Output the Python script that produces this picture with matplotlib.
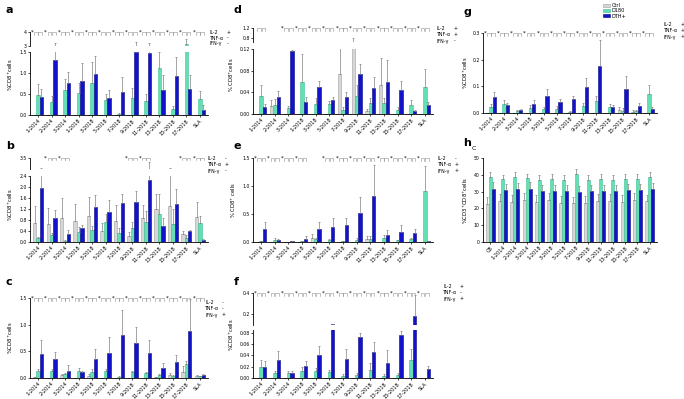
import numpy as np
import matplotlib
matplotlib.use("Agg")
import matplotlib.pyplot as plt
from matplotlib.patches import Patch
from matplotlib.transforms import blended_transform_factory

# categories
cats = ["1-2014", "2-2014", "3-2014", "1-2018", "3-2018", "5-2018", "7-2018",
        "9-2018", "11-2018", "13-2018", "15-2018", "17-2018", "SLA"]
cats_h = ["CB"] + cats

# panel a: IL-2+ TNF- IFN-
a_ctrl = [0, 0, 0, 0, 0, 0, 0, 0, 0, 0, 0, 0, 0]
a_d180 = [0.48, 0.30, 0.60, 0.52, 0.77, 0.35, 0.02, 0.40, 0.33, 1.13, 0.15, 3.15, 0.38]
a_dth = [0.42, 1.30, 0.77, 0.80, 0.97, 0.41, 0.55, 1.49, 1.48, 0.60, 0.92, 0.62, 0.13]
a_ctrl_err = [0, 0, 0, 0, 0, 0, 0, 0, 0, 0, 0, 0, 0]
a_d180_err = [0.27, 0.15, 0.25, 0.25, 0.50, 0.15, 0.03, 0.25, 0.17, 0.38, 0.07, 0.35, 0.20]
a_dth_err = [0.20, 1.90, 0.25, 0.45, 0.43, 0.18, 0.35, 1.80, 1.75, 0.35, 0.47, 0.33, 0.10]
a_sig = [2, 2, 2, 2, 2, 2, 2, 2, 2, 2, 2, 2, 2]

# panel b: IL-2- TNF+ IFN-
b_ctrl = [0.70, 0.67, 0.86, 0.76, 0.93, 0.40, 0.78, 0.23, 0.88, 1.19, 1.31, 0.29, 0.91]
b_d180 = [0.15, 0.27, 0.05, 0.36, 0.42, 0.73, 0.32, 0.51, 0.72, 1.03, 0.65, 0.15, 0.70]
b_dth = [1.96, 0.88, 0.29, 0.52, 1.26, 1.09, 1.43, 1.47, 2.24, 0.59, 1.39, 0.39, 0.07]
b_ctrl_err = [0.60, 0.55, 0.75, 0.62, 0.72, 0.30, 0.55, 0.12, 0.45, 0.55, 1.30, 0.10, 0.55]
b_d180_err = [0.05, 0.05, 0.02, 0.20, 0.15, 0.30, 0.20, 0.20, 0.40, 0.70, 0.55, 0.10, 0.25]
b_dth_err = [0.60, 0.28, 0.15, 0.10, 0.45, 0.45, 0.30, 0.40, 0.90, 0.30, 0.55, 0.05, 0.04]
b_sig = [0, 2, 2, 0, 0, 0, 0, 2, 2, 0, 0, 2, 2]

# panel c: IL-2- TNF- IFN+
c_ctrl = [0.01, 0, 0.05, 0, 0.04, 0, 0, 0, 0, 0.01, 0.05, 0.12, 0.04]
c_d180 = [0.13, 0.13, 0.07, 0.13, 0.12, 0.13, 0.02, 0.11, 0.09, 0.05, 0.03, 0.26, 0.03]
c_dth = [0.45, 0.35, 0.14, 0.12, 0.35, 0.47, 0.80, 0.66, 0.47, 0.19, 0.30, 0.88, 0.05]
c_ctrl_err = [0, 0, 0.03, 0, 0.04, 0, 0, 0, 0, 0, 0.05, 0.10, 0.01]
c_d180_err = [0.04, 0.03, 0.03, 0.05, 0.05, 0.04, 0.01, 0.03, 0.02, 0.02, 0.03, 0.06, 0.01]
c_dth_err = [0.27, 0.14, 0.10, 0.02, 0.20, 0.30, 0.47, 0.30, 0.25, 0.10, 0.14, 0.60, 0.03]
c_sig = [2, 2, 2, 2, 2, 2, 2, 2, 2, 2, 2, 2, 2]

# panel d: IL-2+ TNF+ IFN-
d_ctrl = [0, 0.015, 0, 0, 0, 0, 0.073, 0.125, 0.005, 0.054, 0, 0, 0]
d_d180 = [0.033, 0.017, 0.011, 0.060, 0.019, 0.019, 0.008, 0.034, 0.020, 0.020, 0.008, 0.017, 0.050]
d_dth = [0.013, 0.031, 0.116, 0.023, 0.049, 0.025, 0.031, 0.073, 0.048, 0.060, 0.045, 0.006, 0.017]
d_ctrl_err = [0, 0.010, 0, 0, 0, 0, 0.050, 0.700, 0.005, 0.050, 0, 0, 0]
d_d180_err = [0.020, 0.010, 0.004, 0.050, 0.010, 0.005, 0.005, 0.020, 0.010, 0.010, 0.005, 0.008, 0.033]
d_dth_err = [0.005, 0.012, 0.002, 0.008, 0.012, 0.006, 0.010, 0.020, 0.020, 0.040, 0.016, 0.002, 0.005]
d_sig = [1, 0, 2, 2, 2, 2, 2, 2, 2, 2, 2, 2, 2]

# panel e: IL-2- TNF+ IFN+
e_ctrl = [0, 0, 0, 0, 0.07, 0, 0, 0, 0.06, 0, 0, 0, 0]
e_d180 = [0.01, 0.04, 0.005, 0.01, 0.05, 0.04, 0.01, 0.04, 0.06, 0.07, 0.03, 0.05, 0.91]
e_dth = [0.23, 0.04, 0.01, 0.06, 0.24, 0.27, 0.31, 0.52, 0.83, 0.12, 0.18, 0.16, 0.02]
e_ctrl_err = [0, 0, 0, 0, 0.08, 0, 0, 0, 0.05, 0, 0, 0, 0]
e_d180_err = [0.005, 0.03, 0, 0.005, 0.03, 0.02, 0.005, 0.03, 0.05, 0.05, 0.01, 0.02, 0.45]
e_dth_err = [0.13, 0.02, 0.005, 0.05, 0.11, 0.15, 0.11, 0.28, 0.55, 0.10, 0.12, 0.07, 0.005]
e_sig = [2, 2, 2, 2, 0, 2, 2, 2, 2, 2, 2, 2, 2]

# panel f: IL-2+ TNF- IFN+
f_ctrl = [0, 0, 0, 0, 0, 0, 0, 0, 0, 0, 0, 0, 0]
f_d180 = [0.020, 0.008, 0.008, 0.012, 0.012, 0.010, 0.004, 0.006, 0.014, 0.004, 0.005, 0.032, 0]
f_dth = [0.019, 0.032, 0.008, 0.022, 0.040, 0.095, 0.034, 0.072, 0.046, 0.027, 0.076, 0.180, 0.016]
f_ctrl_err = [0, 0, 0, 0, 0, 0, 0, 0, 0, 0, 0, 0, 0]
f_d180_err = [0.012, 0.005, 0.004, 0.008, 0.006, 0.004, 0.003, 0.003, 0.012, 0.003, 0.003, 0.020, 0]
f_dth_err = [0.011, 0.015, 0.004, 0.008, 0.016, 0.005, 0.018, 0.008, 0.018, 0.022, 0.008, 0.200, 0.006]
f_sig = [2, 2, 2, 2, 2, 2, 2, 2, 2, 2, 2, 2, 2]

# panel g: IL-2+ TNF+ IFN+
g_ctrl = [0, 0, 0, 0, 0, 0, 0, 0, 0, 0, 0.012, 0.005, 0]
g_d180 = [0.022, 0.034, 0.008, 0.019, 0.016, 0.016, 0.005, 0.027, 0.045, 0.021, 0.009, 0.006, 0.071]
g_dth = [0.060, 0.029, 0.012, 0.035, 0.065, 0.040, 0.052, 0.097, 0.175, 0.021, 0.090, 0.027, 0.016]
g_ctrl_err = [0, 0, 0, 0, 0, 0, 0, 0, 0, 0, 0.010, 0.005, 0]
g_d180_err = [0.010, 0.015, 0.003, 0.010, 0.005, 0.010, 0.003, 0.012, 0.020, 0.012, 0.008, 0.005, 0.035]
g_dth_err = [0.020, 0.010, 0.004, 0.012, 0.024, 0.012, 0.012, 0.035, 0.100, 0.010, 0.050, 0.010, 0.006]
g_sig = [2, 2, 2, 2, 2, 2, 2, 2, 2, 2, 2, 2, 2]

# panel h: total CD3+CD8+
h_ctrl = [22.5, 24.5, 24, 25, 24, 25, 23.5, 23, 23.5, 24.5, 24.5, 24, 25, 24.5]
h_d180 = [38.5, 37.5, 38.5, 38, 37, 37.5, 37, 40.5, 37, 37.5, 37, 37.5, 37.5, 38.5]
h_dth = [31.5, 31, 31.5, 31.5, 30.5, 30.5, 30.5, 30, 30.5, 30.5, 30.5, 31, 31, 31.5]
h_ctrl_err = [4.5, 4, 4, 4, 4, 4, 4, 3.5, 4, 4, 4, 4, 4, 3.5]
h_d180_err = [3, 2.5, 3, 2.5, 3, 3, 3, 3, 3, 3, 3, 3, 3, 3]
h_dth_err = [4, 3.5, 3.5, 4, 3.5, 3.5, 3.5, 3.5, 3.5, 3.5, 3.5, 3.5, 3.5, 3.5]

C_CTRL, E_CTRL = "#d6d6d6", "#a0a0a0"
C_D180, E_D180 = "#62e0b4", "#3fbf93"
C_DTH, E_DTH = "#1212cc", "#06067a"

W, H = 684, 399
fig = plt.figure(figsize=(6.84, 3.99), dpi=100)


def add_ax(l, t, r, b):
    # axes from pixel box
    return fig.add_axes([l / W, 1 - b / H, (r - l) / W, (b - t) / H])


def style(ax, labels=None):
    for s in ["top", "right"]:
        ax.spines[s].set_visible(False)
    ax.spines["left"].set_linewidth(0.6)
    ax.spines["bottom"].set_linewidth(0.6)
    ax.tick_params(length=1.5, width=0.5, labelsize=3.3, pad=0.8)
    if labels is None:
        ax.spines["bottom"].set_visible(False)
        ax.tick_params(axis="x", bottom=False, labelbottom=False)
    else:
        ax.set_xticks(np.arange(len(labels)))
        ax.set_xticklabels(labels, rotation=45, ha="right", rotation_mode="anchor", fontsize=3.6)


def bars(ax, ctrl, d180, dth, ectrl, ed180, edth):
    n = len(ctrl)
    x = np.arange(n)
    w = 0.25
    for off, v, e, fc, ec in [(-w, ctrl, ectrl, C_CTRL, E_CTRL),
                              (0, d180, ed180, C_D180, E_D180),
                              (w, dth, edth, C_DTH, E_DTH)]:
        ax.bar(x + off, v, w, color=fc, edgecolor=ec, linewidth=0.4,
               yerr=[np.zeros(n), e],
               error_kw=dict(ecolor="#808080", elinewidth=0.5, capsize=0.8, capthick=0.5))
    ax.set_xlim(-0.6, n - 0.4)


def sig(ax, flags):
    # stars and brackets along the top edge
    tr = blended_transform_factory(ax.transData, ax.transAxes)
    drop = 2.5 / (ax.get_position().height * H)
    for i, f in enumerate(flags):
        if f == 0:
            continue
        for x0, x1 in [(i - 0.3, i - 0.03), (i + 0.03, i + 0.3)]:
            ax.plot([x0, x0, x1, x1], [1 - drop, 1, 1, 1 - drop], transform=tr,
                    color="#909090", lw=0.4, clip_on=False)
        if f == 2:
            ax.text(i - 0.45, 1, "*", transform=tr, fontsize=4, ha="center", va="center")


def cyto(x, y, signs):
    for k, (lab, s) in enumerate(zip(["IL-2", "TNF-α", "IFN-γ"], signs)):
        fig.text(x / W, 1 - (y + k * 6) / H, lab, fontsize=3.4, va="center")
        fig.text((x + 17) / W, 1 - (y + k * 6) / H, s, fontsize=3.4, va="center")


def ylab(x, y, text):
    fig.text(x / W, 1 - y / H, text, fontsize=3.8, rotation=90, ha="center", va="center")


def broken(box_up, box_lo, vals, lim_up, lim_lo, ticks_up, ticks_lo, fmt_up, fmt_lo, sigs, labels):
    up = add_ax(*box_up)
    lo = add_ax(*box_lo)
    for ax in (up, lo):
        bars(ax, *vals)
    style(up)
    style(lo, labels)
    up.set_ylim(*lim_up)
    lo.set_ylim(*lim_lo)
    up.set_yticks(ticks_up)
    up.set_yticklabels([fmt_up % t for t in ticks_up])
    lo.set_yticks(ticks_lo)
    lo.set_yticklabels([fmt_lo % t for t in ticks_lo])
    sig(up, sigs)
    return up, lo


# a
broken((30, 32, 208, 46), (30, 52, 208, 115),
       (a_ctrl, a_d180, a_dth, a_ctrl_err, a_d180_err, a_dth_err),
       (3, 4), (0, 1.5), [3, 4], [0, 0.5, 1.0, 1.5], "%d", "%.1f", a_sig, cats)
ylab(11, 75, "%CD8$^{+}$cells")
cyto(210, 32, ["+", "-", "-"])

# b
broken((30, 158, 208, 169), (30, 176, 208, 242),
       (b_ctrl, b_d180, b_dth, b_ctrl_err, b_d180_err, b_dth_err),
       (2.5, 3.5), (0, 2.4), [3.5], [0, 0.4, 0.8, 1.2, 1.6, 2.0, 2.4], "%.1f", "%.1f", b_sig, cats)
ylab(11, 205, "%CD8$^{+}$cells")
cyto(208, 159, ["-", "+", "-"])

# c
ax = add_ax(30, 298, 208, 378)
bars(ax, c_ctrl, c_d180, c_dth, c_ctrl_err, c_d180_err, c_dth_err)
style(ax, cats)
ax.set_ylim(0, 1.5)
ax.set_yticks([0, 0.5, 1.0, 1.5])
ax.set_yticklabels(["0.0", "0.5", "1.0", "1.5"])
sig(ax, c_sig)
ylab(11, 338, "%CD8$^{+}$cells")
cyto(205, 303, ["-", "-", "+"])

# d
broken((253, 28, 433, 42), (253, 49, 433, 114),
       (d_ctrl, d_d180, d_dth, d_ctrl_err, d_d180_err, d_dth_err),
       (0.65, 1.2), (0, 0.12), [0.8, 1.2], [0, 0.04, 0.08, 0.12], "%.1f", "%.2f", d_sig, cats)
ylab(232, 75, "% CD8$^{+}$cells")
cyto(437, 29, ["+", "+", "-"])

# e
ax = add_ax(253, 158, 433, 242)
bars(ax, e_ctrl, e_d180, e_dth, e_ctrl_err, e_d180_err, e_dth_err)
style(ax, cats)
ax.set_ylim(0, 1.5)
ax.set_yticks([0, 0.5, 1.0, 1.5])
ax.set_yticklabels(["0.0", "0.5", "1.0", "1.5"])
sig(ax, e_sig)
ylab(234, 200, "% CD8$^{+}$ cells")
cyto(438, 159, ["-", "+", "+"])

# f
broken((253, 293, 433, 325), (253, 330, 433, 378),
       (f_ctrl, f_d180, f_dth, f_ctrl_err, f_d180_err, f_dth_err),
       (0.09, 0.4), (0, 0.085), [0.2, 0.4], [0, 0.02, 0.04, 0.06, 0.08], "%.1f", "%.2f", f_sig, cats)
ylab(232, 335, "%CD8$^{+}$cells")
cyto(443, 287, ["+", "-", "+"])

# g
ax = add_ax(483, 33, 657, 113)
bars(ax, g_ctrl, g_d180, g_dth, g_ctrl_err, g_d180_err, g_dth_err)
style(ax, cats)
ax.set_ylim(0, 0.3)
ax.set_yticks([0, 0.1, 0.2, 0.3])
ax.set_yticklabels(["0.0", "0.1", "0.2", "0.3"])
sig(ax, g_sig)
ylab(466, 73, "%CD8$^{+}$cells")
cyto(664, 25, ["+", "+", "+"])

# h
ax = add_ax(483, 158, 657, 242)
bars(ax, h_ctrl, h_d180, h_dth, h_ctrl_err, h_d180_err, h_dth_err)
style(ax, cats_h)
ax.set_ylim(0, 50)
ax.set_yticks([0, 10, 20, 30, 40, 50])
ylab(466, 200, "%CD3$^{+}$CD8$^{+}$cells")
fig.text(472 / W, 1 - 148 / H, "C", fontsize=4.5, va="center")

# panel letters
for lab, x, y in [("a", 6, 10), ("b", 6, 146), ("c", 6, 282),
                  ("d", 234, 10), ("e", 234, 146), ("f", 234, 282),
                  ("g", 463, 12), ("h", 463, 143)]:
    fig.text(x / W, 1 - y / H, lab, fontsize=8, fontweight="bold", va="center")

handles = [Patch(facecolor=C_CTRL, edgecolor=E_CTRL, lw=0.4),
           Patch(facecolor=C_D180, edgecolor=E_D180, lw=0.4),
           Patch(facecolor=C_DTH, edgecolor=E_DTH, lw=0.4)]
fig.legend(handles, ["Ctrl", "D180", "DTH+"], loc="upper left", bbox_to_anchor=(600 / W, 1.0),
           fontsize=3.6, frameon=False, handlelength=1.4, handleheight=0.6,
           labelspacing=0.05, borderpad=0.1, handletextpad=0.4)

fig.savefig("out.png", dpi=100)
